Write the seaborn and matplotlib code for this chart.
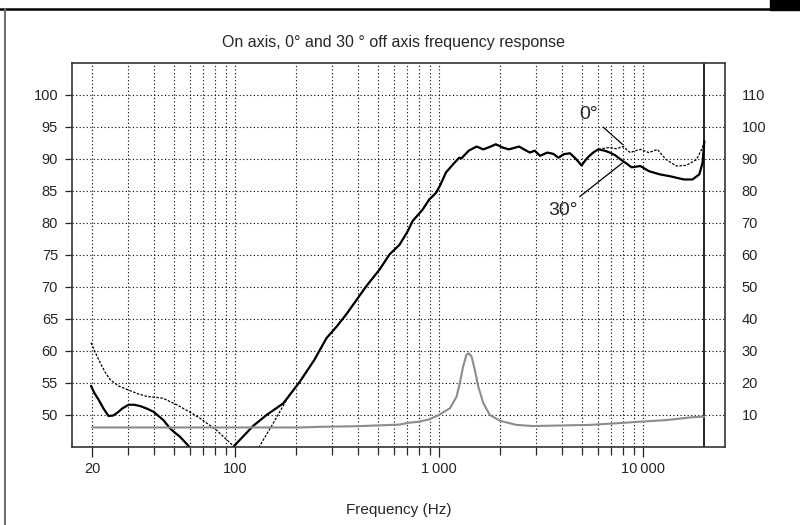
import seaborn as sns
import matplotlib.pyplot as plt
from matplotlib.ticker import FixedLocator, NullFormatter
from matplotlib.lines import Line2D
from matplotlib.patches import Rectangle

# part of the response where 0 deg and 30 deg lie on top of each other
freq_common = [208, 245, 281, 315, 351, 395, 440, 511, 573, 641, 700, 743, 832, 898,
               967, 1011, 1083, 1175, 1258, 1290, 1400, 1530, 1650, 1780, 1900, 2050,
               2200, 2470, 2790, 2950, 3130, 3400, 3640, 3850, 4100, 4390, 4700, 5000,
               5350, 5700, 6040]
spl_common = [55.2, 58.6, 62.0, 63.8, 65.7, 68.0, 70.1, 72.7, 75.1, 76.6, 78.6, 80.3,
              82.1, 83.7, 84.7, 85.8, 87.9, 89.2, 90.2, 90.1, 91.3, 91.95, 91.5, 91.9,
              92.3, 91.8, 91.5, 91.95, 91.0, 91.3, 90.5, 91.0, 90.8, 90.2, 90.75, 90.9,
              90.0, 89.0, 90.2, 91.0, 91.5]

# 0 deg (dotted)
freq_0_low = [19.7, 20.8, 21.9, 23.2, 24.5, 27, 30.1, 33.5, 37.0, 40, 44.6, 48, 51.9,
              59, 67.4, 81.4, 98, 110, 125, 132.5, 154, 179]
spl_0_low = [61.3, 59.6, 58.1, 56.6, 55.5, 54.5, 53.9, 53.3, 52.9, 52.8, 52.6, 52.1,
             51.6, 50.6, 49.5, 47.6, 45.2, 43.5, 43.5, 45.2, 48.7, 52.35]
freq_0_high = [6500, 6880, 7400, 8000, 8660, 9200, 9720, 10700, 11770, 13000, 14600,
               16300, 18300, 19600, 20000]
spl_0_high = [91.7, 91.8, 91.6, 91.95, 91.0, 91.3, 91.5, 91.0, 91.5, 89.9, 88.9, 89.0,
              89.9, 91.8, 92.8]

# 30 deg (solid)
freq_30_low = [19.7, 20.5, 21.5, 22.7, 24.0, 25.2, 26.4, 28, 30.1, 32, 34.3, 37, 39.9,
               42, 44.6, 48.1, 50.5, 53.8, 59.1, 66, 90, 100, 122.9, 142.9, 172.3]
spl_30_low = [54.55, 53.4, 52.35, 51.0, 49.85, 49.9, 50.3, 51.0, 51.6, 51.6, 51.4, 51.0,
              50.5, 49.9, 49.2, 47.9, 47.3, 46.6, 45.2, 43.5, 43.5, 45.3, 48.3, 50.0, 51.8]
freq_30_high = [6500, 6880, 7300, 7800, 8300, 8800, 9720, 10700, 12100, 13600, 15900,
                17500, 18900, 19600, 20000]
spl_30_high = [91.3, 91.0, 90.6, 89.9, 89.3, 88.7, 88.9, 88.1, 87.6, 87.3, 86.8, 86.8,
               87.6, 89.4, 92.8]

# impedance (right axis, grey)
freq_imp = [20, 50, 100, 208, 260, 400, 641, 716, 801, 898, 1000, 1132, 1220, 1265,
            1314, 1364, 1401, 1445, 1500, 1559, 1651, 1777, 1990, 2397, 2885, 5487,
            7405, 9664, 12980, 17520, 20000]
z_imp = [6.1, 6.1, 6.1, 6.1, 6.3, 6.5, 7.0, 7.6, 7.9, 8.65, 10.0, 12.1, 15.7, 19.9,
         25.1, 28.8, 29.3, 28.3, 24.1, 18.9, 13.7, 10.0, 8.2, 6.9, 6.55, 6.9, 7.4, 7.9,
         8.4, 9.3, 9.5]

x_major = [20, 100, 1000, 10000]
x_major_labels = ["20", "100", "1\u2009000", "10\u2009000"]
x_minor = [30, 40, 50, 60, 70, 80, 90, 200, 300, 400, 500, 600, 700, 800, 900,
           2000, 3000, 4000, 5000, 6000, 7000, 8000, 9000]
y_left_ticks = [50, 55, 60, 65, 70, 75, 80, 85, 90, 95, 100]
y_right_ticks = [10, 20, 30, 40, 50, 60, 70, 80, 90, 100, 110]
LIMIT_HZ = 20000

sns.set_style("ticks")
plt.rcParams['font.family'] = ['Liberation Sans', 'DejaVu Sans']

fig = plt.figure(figsize=(8, 5.25), dpi=100)
ax = fig.add_axes([0.09, 0.1486, 0.816, 0.7314])
ax.set_xscale('log')

grid_kw = dict(color='black', lw=0.8, linestyle=(0, (1, 2.2)))
ax.grid(axis='x', which='both', **grid_kw)
ax.grid(axis='y', which='major', **grid_kw)

sns.lineplot(x=freq_30_low + freq_common + freq_30_high,
             y=spl_30_low + spl_common + spl_30_high,
             ax=ax, color='black', lw=1.6, sort=False, estimator=None)
sns.lineplot(x=freq_0_low + freq_common + freq_0_high,
             y=spl_0_low + spl_common + spl_0_high,
             ax=ax, color='black', lw=0.9, linestyle=(0, (2, 1.2)),
             sort=False, estimator=None)
ax.axvline(LIMIT_HZ, color='black', lw=1.2)

ax.set_xlim(15.9, 25200)
ax.set_ylim(45, 105)
ax.xaxis.set_major_locator(FixedLocator(x_major))
ax.set_xticklabels(x_major_labels)
ax.xaxis.set_minor_locator(FixedLocator(x_minor))
ax.xaxis.set_minor_formatter(NullFormatter())
ax.set_yticks(y_left_ticks)
ax.set_yticklabels([str(v) for v in y_left_ticks])
ax.tick_params(axis='x', which='major', length=7, width=0.9, pad=4, labelsize=10.5)
ax.tick_params(axis='x', which='minor', length=6, width=0.9)
ax.tick_params(axis='y', length=5, width=0.9, pad=5, labelsize=10.5)
ax.set_xlabel("Frequency (Hz)", fontsize=11)
ax.xaxis.set_label_coords(0.5, -0.145)
ax.set_ylabel("")
for sp in ax.spines.values():
    sp.set_color('#333333')
    sp.set_linewidth(1.2)

ax2 = ax.twinx()
sns.lineplot(x=freq_imp, y=z_imp, ax=ax2, color='#8c8c8c', lw=1.5,
             sort=False, estimator=None)
ax2.set_ylim(0, 120)
ax2.set_yticks(y_right_ticks)
ax2.set_yticklabels([str(v) for v in y_right_ticks])
ax2.tick_params(axis='y', length=0, pad=12, labelsize=10.5)
ax2.set_ylabel("")
for sp in ax2.spines.values():
    sp.set_visible(False)

ax.annotate("0°", xy=(8130, 92.0), xytext=(5420, 97.0), fontsize=14,
            ha='center', va='center',
            arrowprops=dict(arrowstyle='-', color='black', lw=0.9))
ax.annotate("30°", xy=(8130, 89.65), xytext=(4040, 82.0), fontsize=14,
            ha='center', va='center',
            arrowprops=dict(arrowstyle='-', color='black', lw=0.9))

fig.text(0.492, 0.92, "On axis, 0° and 30 ° off axis frequency response",
         ha='center', va='center', fontsize=11.5)

# page frame of the scanned sheet
fig.add_artist(Line2D([0, 0.9625], [0.983, 0.983], color='black', lw=1.8,
                      transform=fig.transFigure))
fig.add_artist(Rectangle((0.9625, 0.981), 0.0375, 0.019, color='black',
                         transform=fig.transFigure))
fig.add_artist(Line2D([0.0065, 0.0065], [0, 0.983], color='#707070', lw=1.5,
                      transform=fig.transFigure))

fig.savefig('out.png', dpi=100)
